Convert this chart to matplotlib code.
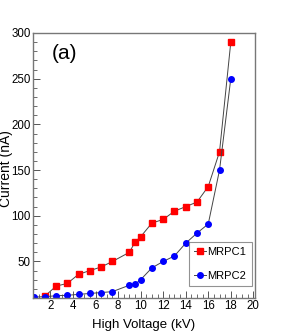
import matplotlib
matplotlib.use("Agg")
import matplotlib.pyplot as plt
from matplotlib.ticker import MultipleLocator

plt.rcParams['font.family'] = ['Liberation Sans', 'DejaVu Sans']

# MRPC1 (red squares)
hv1 = [1.5, 2.5, 3.5, 4.5, 5.5, 6.5, 7.5, 9, 9.5, 10, 11, 12, 13, 14, 15, 16, 17, 18]
cur1 = [12, 23, 26, 36, 40, 44, 50, 60, 71, 77, 92, 96, 105, 110, 115, 132, 170, 290]

# MRPC2 (blue circles)
hv2 = [0.5, 1.5, 2.5, 3.5, 4.5, 5.5, 6.5, 7.5, 9, 9.5, 10, 11, 12, 13, 14, 15, 16, 17, 18]
cur2 = [11, 11.5, 12.5, 13, 14, 15, 16, 17, 24, 25, 30, 43, 50, 56, 70, 81, 91, 150, 250]

fig = plt.figure(figsize=(2.84, 3.33), dpi=100)
ax = fig.add_axes([0.116, 0.105, 0.782, 0.796])

ax.plot(hv1, cur1, color='#444444', lw=0.7, marker='s', ms=4.5,
        mfc='#ff0000', mec='#ff0000', label='MRPC1')
ax.plot(hv2, cur2, color='#444444', lw=0.7, marker='o', ms=4.0,
        mfc='#0000ff', mec='#0000ff', label='MRPC2')

ax.set_xlim(0.45, 20.15)
ax.set_ylim(10, 300)
ax.xaxis.set_major_locator(MultipleLocator(2))
ax.xaxis.set_minor_locator(MultipleLocator(0.5))
ax.yaxis.set_major_locator(MultipleLocator(50))
ax.yaxis.set_minor_locator(MultipleLocator(10))
ax.tick_params(which='major', direction='in', length=5, width=0.7,
               labelsize=8.3, pad=1.6, color='#555555')
ax.tick_params(which='minor', direction='in', length=3, width=0.6, color='#555555')
ax.tick_params(top=False, right=False, which='both')

for s in ax.spines.values():
    s.set_color('#777777')
    s.set_linewidth(1.0)

ax.set_xlabel('High Voltage (kV)', fontsize=9.5)
ax.set_ylabel('Current (nA)', fontsize=10)
ax.xaxis.set_label_coords(0.5, -0.078)
ax.yaxis.set_label_coords(-0.092, 0.49)

ax.text(0.085, 0.96, '(a)', transform=ax.transAxes, fontsize=15,
        ha='left', va='top')

leg = ax.legend(loc='lower right', bbox_to_anchor=(0.985, 0.045), fontsize=8,
                frameon=True, fancybox=False, handlelength=1.0,
                handletextpad=0.15, labelspacing=1.2, borderpad=0.5,
                borderaxespad=0)
leg.get_frame().set_edgecolor('#777777')
leg.get_frame().set_linewidth(0.8)

fig.savefig('out.png', dpi=100)
